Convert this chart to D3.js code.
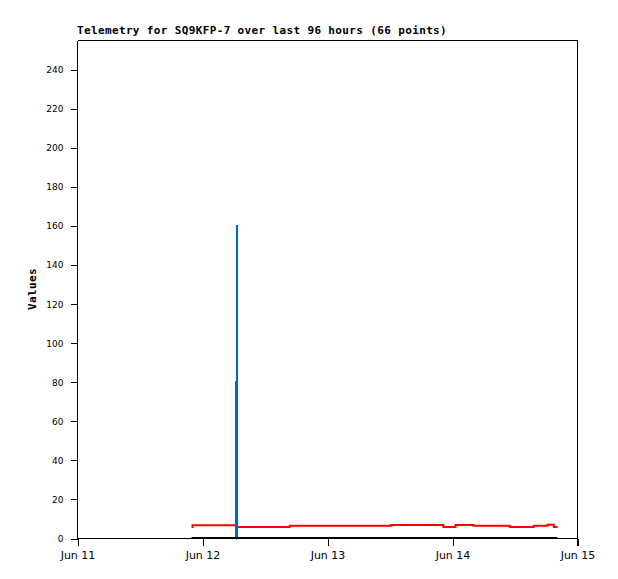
<!DOCTYPE html>
<html>
<head>
<meta charset="utf-8">
<script src="https://cdn.jsdelivr.net/npm/d3@7"></script>
<style>
  html, body { margin: 0; padding: 0; background: #fff; }
  svg { display: block; }
</style>
</head>
<body>
<svg id="chart" width="618" height="579"></svg>
<script>
// ---- data ----
const titleText = "Telemetry for SQ9KFP-7 over last 96 hours (66 points)";
const yLabelText = "Values";
const xDomain = ["2024-06-11T00:00", "2024-06-15T00:00"];
const xTickDates = ["2024-06-11T00:00", "2024-06-12T00:00", "2024-06-13T00:00", "2024-06-14T00:00", "2024-06-15T00:00"];
const yTicks = [0, 20, 40, 60, 80, 100, 120, 140, 160, 180, 200, 220, 240];

const redTimes = ["2024-06-11T21:53", "2024-06-11T22:05", "2024-06-12T06:37", "2024-06-12T16:45",
                  "2024-06-13T12:17", "2024-06-13T22:16", "2024-06-14T00:35", "2024-06-14T04:02",
                  "2024-06-14T11:00", "2024-06-14T15:36", "2024-06-14T18:14", "2024-06-14T19:27",
                  "2024-06-14T20:10"];
const redValues = [5.9, 6.8, 5.9, 6.5, 6.9, 5.9, 6.9, 6.5, 5.9, 6.5, 7.0, 5.9, 5.9];

const blueTimes = ["2024-06-12T06:20", "2024-06-12T06:26", "2024-06-12T06:37", "2024-06-12T06:38", "2024-06-12T06:40"];
const blueValues = [0, 80, 160, 0, 0];

const blackTimes = ["2024-06-11T21:53", "2024-06-14T20:10"];
const blackValues = [0, 0];

// ---- setup ----
(function () {
const parse = d3.utcParse("%Y-%m-%dT%H:%M");
const svg = d3.select("#chart");

const pLeft = 77.5, pRight = 577.5, pTop = 40.5, pBottom = 538.5;

const x = d3.scaleUtc().domain(xDomain.map(parse)).range([pLeft, pRight]);
const y = d3.scaleLinear().domain([0, 255]).range([pBottom, pTop]);

// frame (top and right)
svg.append("path")
  .attr("d", `M${pLeft},${pTop}H${pRight}V${pBottom + 7}`)
  .attr("fill", "none").attr("stroke", "#000").attr("stroke-width", 1)
  .attr("shape-rendering", "crispEdges");

// y axis
const yAxis = svg.append("g").attr("transform", `translate(${pLeft},0)`)
  .call(d3.axisLeft(y).tickValues(yTicks).tickSize(7).tickPadding(7).tickSizeOuter(0));
yAxis.select(".domain").attr("d", `M0,${pTop}V${pBottom}`);
yAxis.selectAll("line").attr("shape-rendering", "crispEdges");
yAxis.selectAll(".domain").attr("shape-rendering", "crispEdges");
yAxis.selectAll("text").attr("font-family", "DejaVu Sans").attr("font-size", 9).attr("fill", "#000");

// x axis
const xAxis = svg.append("g").attr("transform", `translate(0,${pBottom})`)
  .call(d3.axisBottom(x).tickValues(xTickDates.map(parse)).tickFormat(d3.utcFormat("%b %d")).tickSize(7).tickPadding(6).tickSizeOuter(0));
xAxis.select(".domain").attr("d", `M${pLeft},0H${pRight}`);
xAxis.selectAll("line").attr("shape-rendering", "crispEdges");
xAxis.selectAll(".domain").attr("shape-rendering", "crispEdges");
xAxis.selectAll("text").attr("font-family", "DejaVu Sans").attr("font-size", 11).attr("fill", "#000");

// title
svg.append("text")
  .attr("x", 77).attr("y", 34)
  .attr("font-family", "DejaVu Sans Mono").attr("font-weight", "bold")
  .attr("font-size", 11).attr("letter-spacing", 0.36)
  .text(titleText);

// y label
svg.append("text")
  .attr("transform", "translate(36,289) rotate(-90)")
  .attr("text-anchor", "middle")
  .attr("font-family", "DejaVu Sans Mono").attr("font-weight", "bold")
  .attr("font-size", 11).attr("letter-spacing", 0.36)
  .text(yLabelText);

// series
const line = d3.line().x(d => x(d.t)).y(d => y(d.v)).curve(d3.curveStepAfter);
function series(times, values) {
  return times.map((t, i) => ({ t: parse(t), v: values[i] }));
}

svg.append("path").datum(series(redTimes, redValues))
  .attr("d", line).attr("fill", "none").attr("stroke", "#ff0000").attr("stroke-width", 2);
svg.append("path").datum(series(blueTimes, blueValues))
  .attr("d", line).attr("fill", "none").attr("stroke", "#0066cc").attr("stroke-width", 2);
svg.append("path").datum(series(blackTimes, blackValues))
  .attr("d", line).attr("fill", "none").attr("stroke", "#000").attr("stroke-width", 2)
  .attr("transform", "translate(0,-0.5)");
})();
</script>
</body>
</html>
